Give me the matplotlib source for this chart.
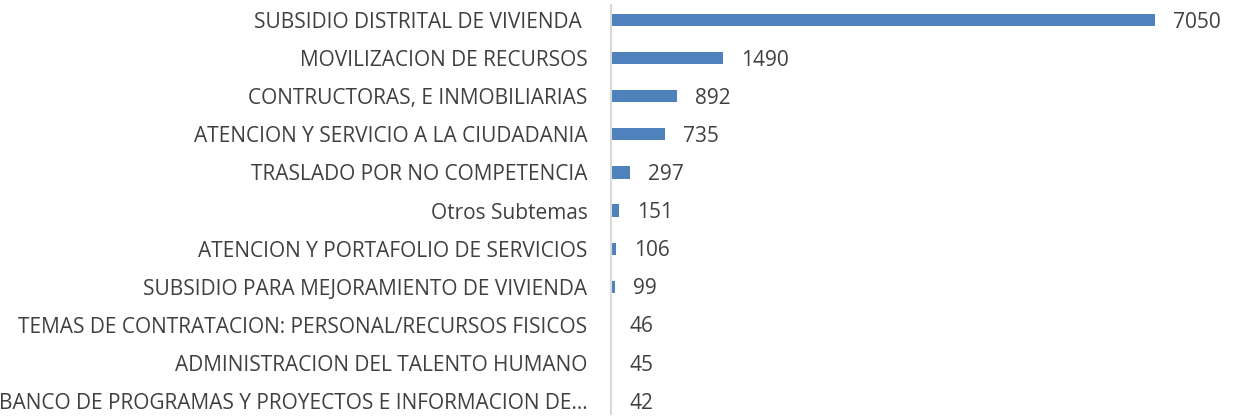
import matplotlib
matplotlib.use("Agg")
import matplotlib.pyplot as plt

categories = [
    "SUBSIDIO DISTRITAL DE VIVIENDA ",
    "MOVILIZACION DE RECURSOS",
    "CONTRUCTORAS, E INMOBILIARIAS",
    "ATENCION Y SERVICIO A LA CIUDADANIA",
    "TRASLADO POR NO COMPETENCIA",
    "Otros Subtemas",
    "ATENCION Y PORTAFOLIO DE SERVICIOS",
    "SUBSIDIO PARA MEJORAMIENTO DE VIVIENDA",
    "TEMAS DE CONTRATACION: PERSONAL/RECURSOS FISICOS",
    "ADMINISTRACION DEL TALENTO HUMANO",
    "BANCO DE PROGRAMAS Y PROYECTOS E INFORMACION DE...",
]
values = [7050, 1490, 892, 735, 297, 151, 106, 99, 46, 45, 42]

plt.rcParams['font.family'] = ['Open Sans', 'DejaVu Sans']

fig = plt.figure(figsize=(12.34, 4.16), dpi=100)
ax = fig.add_axes([0.4952, 0, 0.5048, 1])

# axis does not start at zero (like the original), small bars get clipped
xmin = 47
pos = list(range(len(categories)))
ax.barh(pos, values, height=0.32, color='#4f81bd')
ax.set_xlim(xmin, xmin + 623 / 0.0777)
ax.set_ylim(10.39, -0.525)

for y, v in zip(pos, values):
    ax.annotate(str(v), (max(v, xmin), y), xytext=(18, -2), textcoords='offset pixels',
                va='center', ha='left', fontsize=15, color='#404040')

ax.set_yticks(pos)
ax.set_yticklabels(categories, fontsize=15, color='#404040')
ax.tick_params(axis='y', length=0, pad=17)
ax.set_xticks([])
for s in ['top', 'right', 'bottom']:
    ax.spines[s].set_visible(False)
ax.spines['left'].set_color('#d9d9d9')
ax.spines['left'].set_linewidth(1.5)
ax.spines['left'].set_bounds(10.35, -0.4)

fig.savefig('out.png', dpi=100)
